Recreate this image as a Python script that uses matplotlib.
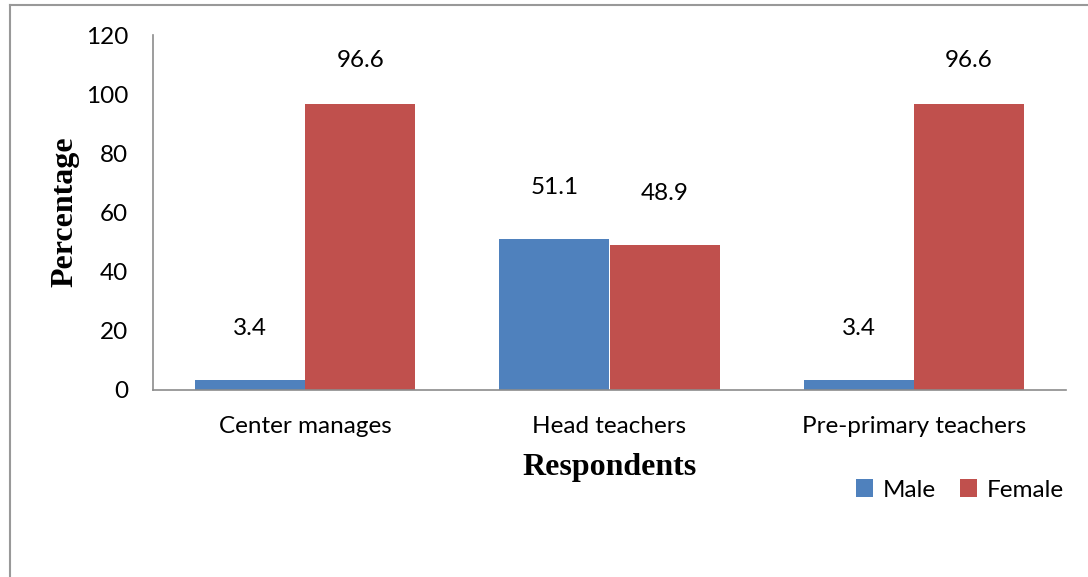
import matplotlib.pyplot as plt
import numpy as np
from matplotlib.lines import Line2D

categories = ['Center manages', 'Head teachers', 'Pre-primary teachers']
male = [3.4, 51.1, 3.4]
female = [96.6, 48.9, 96.6]

blue = '#4f81bd'
red = '#c0504d'

plt.rcParams['font.family'] = ['Lato', 'DejaVu Sans']

fig = plt.figure(figsize=(10.88, 5.77), dpi=100)
ax = fig.add_axes([153 / 1088, 1 - 390 / 577, (1066 - 153) / 1088, (390 - 35) / 577])

x = np.arange(len(categories))
w = 0.362
b1 = ax.bar(x - w / 2, male, w, color=blue, label='Male')
b2 = ax.bar(x + w / 2, female, w, color=red, label='Female')

for bars, vals in ((b1, male), (b2, female)):
    for rect, v in zip(bars, vals):
        ax.text(rect.get_x() + rect.get_width() / 2, min(v + 17.5, 111.5), f'{v:.1f}',
                ha='center', va='center', fontsize=17.5)

ax.set_xlim(-0.5, 2.5)
ax.set_ylim(0, 120)
ax.set_yticks(np.arange(0, 121, 20))
ax.set_xticks(x)
ax.set_xticklabels(categories)
ax.tick_params(length=0, labelsize=17.5)
ax.tick_params(axis='y', pad=18)
ax.tick_params(axis='x', pad=19)
for s in ['top', 'right']:
    ax.spines[s].set_visible(False)
for s in ['left', 'bottom']:
    ax.spines[s].set_color('#8c8c8c')
    ax.spines[s].set_linewidth(1.2)

fig.text(65 / 1088, 1 - 212 / 577, 'Percentage', rotation=90, ha='center', va='center',
         fontsize=23, fontweight='bold', family='Liberation Serif')
fig.text(610 / 1088, 1 - 467 / 577, 'Respondents', ha='center', va='center',
         fontsize=23, fontweight='bold', family='Liberation Serif')

fig.legend(handles=[b1, b2], loc='center', bbox_to_anchor=(960 / 1088, 1 - 490 / 577),
           ncol=2, frameon=False, fontsize=17.5, handlelength=0.7, handleheight=0.7,
           columnspacing=1.0, handletextpad=0.4)

# outer chart border (left and top visible)
fig.add_artist(Line2D([10 / 1088, 10 / 1088], [0, 1 - 5 / 577], color='#999999', lw=1.5,
                      transform=fig.transFigure))
fig.add_artist(Line2D([10 / 1088, 1], [1 - 5 / 577, 1 - 5 / 577], color='#999999', lw=1.5,
                      transform=fig.transFigure))

fig.savefig('out.png', dpi=100)
